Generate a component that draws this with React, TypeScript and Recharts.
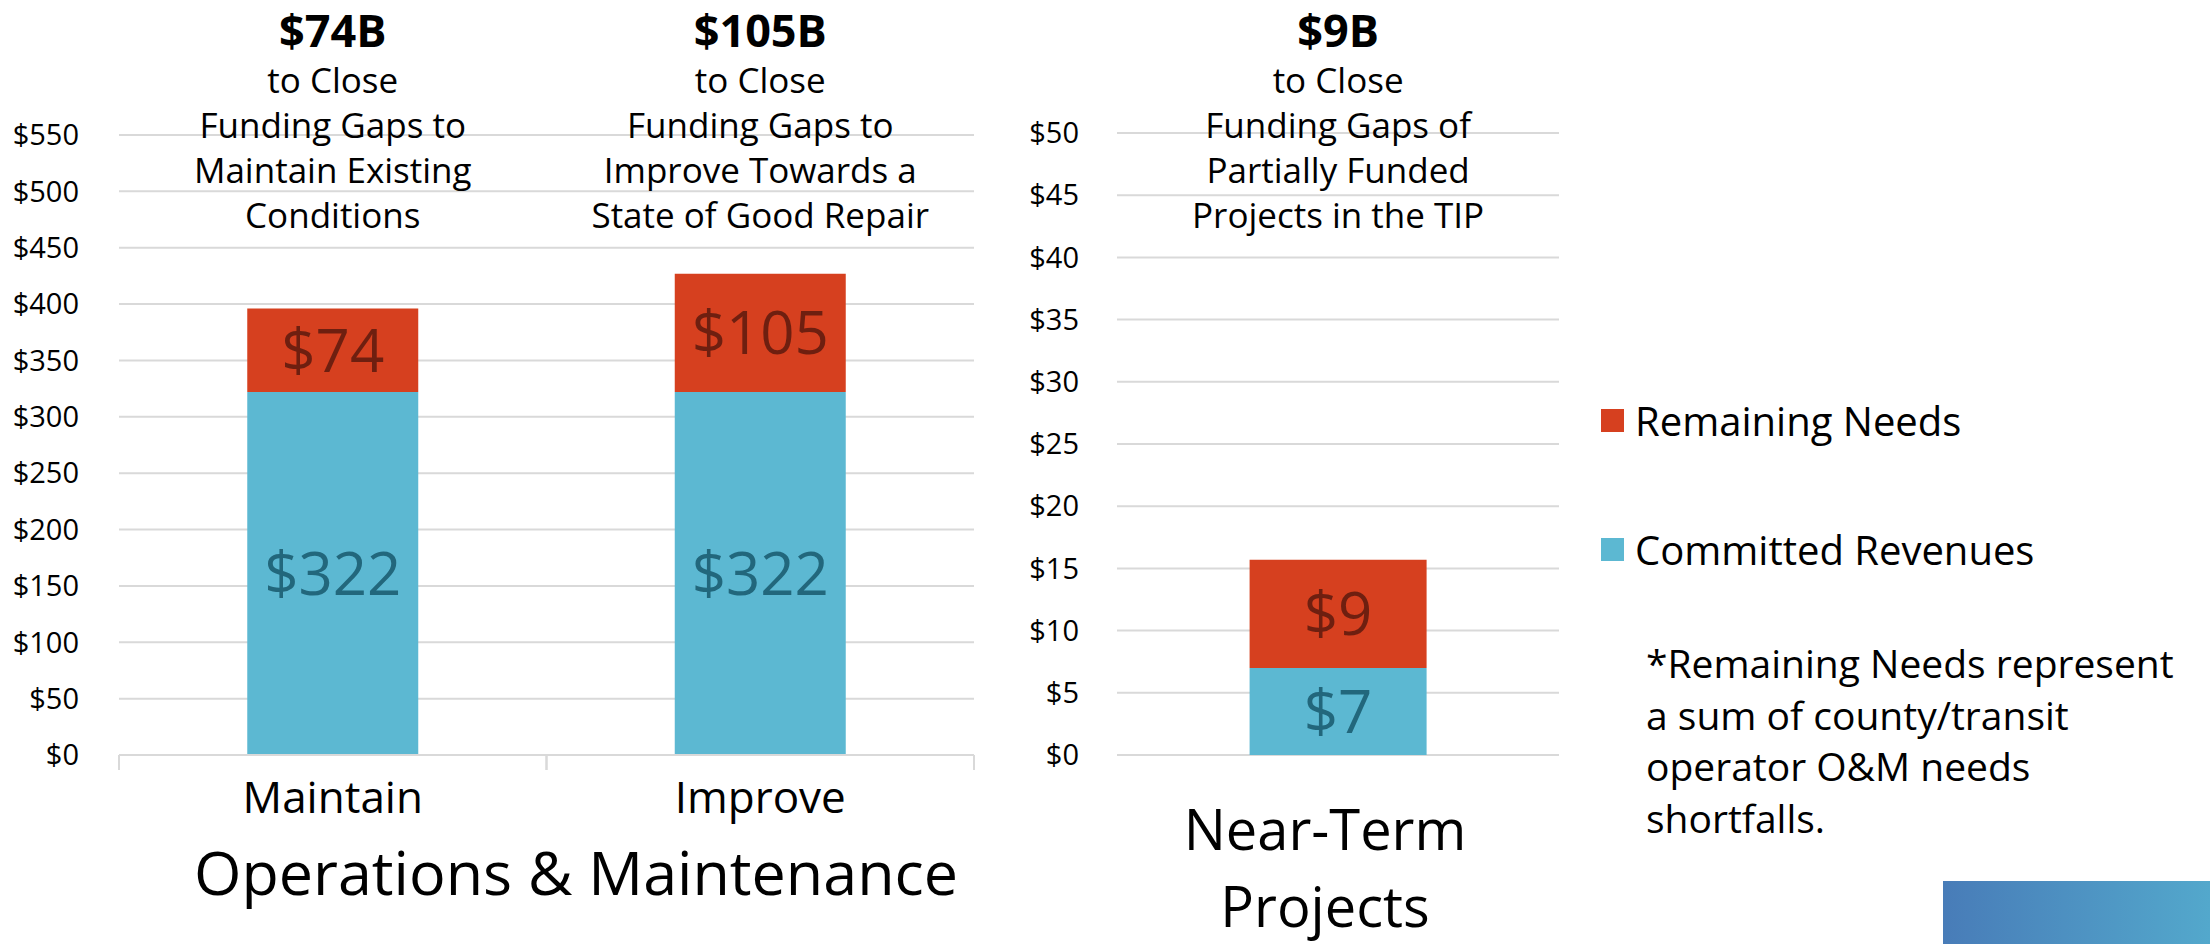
import React from "react";
import {
  BarChart,
  Bar,
  XAxis,
  YAxis,
  CartesianGrid,
  LabelList,
  Legend,
} from "recharts";

// Operations & Maintenance ($B)
const omCategories = ["Maintain", "Improve"];
const omCommitted = [322, 322];
const omRemaining = [74, 105];
const omTitleAmounts = ["$74B", "$105B"];
const omTitleLines = [
  ["to Close", "Funding Gaps to", "Maintain Existing", "Conditions"],
  ["to Close", "Funding Gaps to", "Improve Towards a", "State of Good Repair"],
];
const omTicks = [0, 50, 100, 150, 200, 250, 300, 350, 400, 450, 500, 550];

// Near-term projects ($B)
const ntCategories = ["Near-Term Projects"];
const ntCommitted = [7.0];
const ntRemaining = [8.7];
const ntTitleAmounts = ["$9B"];
const ntTitleLines = [
  ["to Close", "Funding Gaps of", "Partially Funded", "Projects in the TIP"],
];
const ntTicks = [0, 5, 10, 15, 20, 25, 30, 35, 40, 45, 50];

const groupLabel = "Operations & Maintenance";
const footnoteLines = [
  "*Remaining Needs represent",
  "a sum of county/transit",
  "operator O&M needs",
  "shortfalls.",
];
const legendOrder = ["Remaining Needs", "Committed Revenues"];

const FONT = "'Open Sans', sans-serif";
const RED = "#D6401F";
const BLUE = "#5CB8D2";
const RED_LABEL = "#6E1F10";
const BLUE_LABEL = "#22677C";
const GRID = "#D9D9D9";

const omData = omCategories.map((name, i) => ({
  name,
  committed: omCommitted[i],
  remaining: omRemaining[i],
}));
const ntData = ntCategories.map((name, i) => ({
  name,
  committed: ntCommitted[i],
  remaining: ntRemaining[i],
}));

const money = (v: any) => `$${Math.round(Number(v))}`;

const makeTitle =
  (amounts: string[], lines: string[][]) =>
  (props: any) => {
    const vb = props.viewBox || {};
    const x = Number(props.x ?? vb.x);
    const w = Number(props.width ?? vb.width);
    const idx = Number(props.index);
    const cx = x + w / 2;
    return (
      <g fontFamily={FONT} textAnchor="middle" fill="#000">
        <text x={cx} y={47} fontSize={45} fontWeight={700}>
          {amounts[idx]}
        </text>
        {(lines[idx] || []).map((l, i) => (
          <text key={i} x={cx} y={93 + i * 45} fontSize={35}>
            {l}
          </text>
        ))}
      </g>
    );
  };

const OmTick = (props: any) => {
  const { x, y, payload } = props;
  const half = payload?.offset ?? 0;
  return (
    <g>
      <line x1={x - half} x2={x - half} y1={y} y2={y + 15} stroke={GRID} strokeWidth={2} />
      <line x1={x + half} x2={x + half} y1={y} y2={y + 15} stroke={GRID} strokeWidth={2} />
      <text x={x} y={y + 58} textAnchor="middle" fontSize={44} fontFamily={FONT} fill="#000">
        {payload.value}
      </text>
    </g>
  );
};

const NtTick = (props: any) => {
  const { x, y, payload } = props;
  const parts = String(payload.value).split(" ");
  return (
    <g>
      {parts.map((p, i) => (
        <text
          key={i}
          x={x - 13}
          y={y + 95 + i * 77}
          textAnchor="middle"
          fontSize={56}
          fontFamily={FONT}
          fill="#000"
        >
          {p}
        </text>
      ))}
    </g>
  );
};

const LegendBox = (props: any) => {
  const items = [...(props.payload || [])].sort(
    (a: any, b: any) => legendOrder.indexOf(a.value) - legendOrder.indexOf(b.value)
  );
  return (
    <div style={{ fontFamily: FONT }}>
      {items.map((it: any, i: number) => (
        <div
          key={it.value}
          style={{
            display: "flex",
            alignItems: "center",
            height: 41,
            marginBottom: i === 0 ? 87.5 : 0,
          }}
        >
          <span
            style={{
              width: 23,
              height: 23,
              background: it.color,
              display: "inline-block",
              marginRight: 11,
            }}
          />
          <span style={{ fontSize: 40, lineHeight: "41px", color: "#000", whiteSpace: "nowrap" }}>
            {it.value}
          </span>
        </div>
      ))}
    </div>
  );
};

const yTick = { fill: "#000", fontSize: 29, fontFamily: FONT };

const App: React.FC = () => {
  return (
    <div
      style={{
        position: "absolute",
        left: 0,
        top: 0,
        width: 2210,
        height: 944,
        background: "#fff",
        overflow: "hidden",
      }}
    >
      <svg
        width={2210}
        height={944}
        style={{ position: "absolute", left: 0, top: 0 }}
      >
        <defs>
          <linearGradient id="corner" x1="0" x2="1" y1="0" y2="0">
            <stop offset="0%" stopColor="#487CB8" />
            <stop offset="100%" stopColor="#53A8CC" />
          </linearGradient>
        </defs>
        <text x={576} y={895} textAnchor="middle" fontSize={61} fontFamily={FONT} fill="#000">
          {groupLabel}
        </text>
        {footnoteLines.map((l, i) => (
          <text key={i} x={1646} y={678 + i * 51.5} fontSize={39} fontFamily={FONT} fill="#000">
            {l}
          </text>
        ))}
        <rect x={1943} y={881} width={267} height={63} fill="url(#corner)" />
      </svg>

      <div style={{ position: "absolute", left: 0, top: 0 }}>
        <BarChart
          width={1000}
          height={944}
          data={omData}
          margin={{ top: 135, right: 26, bottom: 129, left: 0 }}
          barCategoryGap="30%"
        >
          <CartesianGrid vertical={false} stroke={GRID} strokeWidth={2} />
          <XAxis
            dataKey="name"
            height={60}
            interval={0}
            tickSize={0}
            tickMargin={0}
            tickLine={false}
            axisLine={{ stroke: GRID, strokeWidth: 2 }}
            tick={<OmTick />}
          />
          <YAxis
            width={119}
            domain={[0, 550]}
            ticks={omTicks}
            interval={0}
            axisLine={false}
            tickLine={false}
            tickSize={0}
            tickMargin={40}
            tick={yTick}
            tickFormatter={(v) => `$${v}`}
          />
          <Bar dataKey="committed" name="Committed Revenues" stackId="a" fill={BLUE} isAnimationActive={false}>
            <LabelList
              dataKey="committed"
              position="center"
              formatter={money}
              fill={BLUE_LABEL}
              fontSize={60}
              fontFamily={FONT}
            />
          </Bar>
          <Bar dataKey="remaining" name="Remaining Needs" stackId="a" fill={RED} isAnimationActive={false}>
            <LabelList
              dataKey="remaining"
              position="center"
              formatter={money}
              fill={RED_LABEL}
              fontSize={60}
              fontFamily={FONT}
            />
            <LabelList dataKey="remaining" content={makeTitle(omTitleAmounts, omTitleLines)} />
          </Bar>
        </BarChart>
      </div>

      <div style={{ position: "absolute", left: 1000, top: 0 }}>
        <BarChart
          width={1210}
          height={944}
          data={ntData}
          margin={{ top: 133, right: 651, bottom: 129, left: 0 }}
          barCategoryGap="30%"
        >
          <CartesianGrid vertical={false} stroke={GRID} strokeWidth={2} />
          <XAxis
            dataKey="name"
            height={60}
            interval={0}
            tickSize={0}
            tickMargin={0}
            tickLine={false}
            axisLine={false}
            tick={<NtTick />}
          />
          <YAxis
            width={117}
            domain={[0, 50]}
            ticks={ntTicks}
            interval={0}
            axisLine={false}
            tickLine={false}
            tickSize={0}
            tickMargin={38}
            tick={yTick}
            tickFormatter={(v) => `$${v}`}
          />
          <Legend
            layout="vertical"
            align="center"
            verticalAlign="middle"
            wrapperStyle={{ left: 601, top: 400, width: 600, height: 200 }}
            content={<LegendBox />}
          />
          <Bar dataKey="committed" name="Committed Revenues" stackId="a" fill={BLUE} isAnimationActive={false}>
            <LabelList
              dataKey="committed"
              position="center"
              formatter={money}
              fill={BLUE_LABEL}
              fontSize={60}
              fontFamily={FONT}
            />
          </Bar>
          <Bar dataKey="remaining" name="Remaining Needs" stackId="a" fill={RED} isAnimationActive={false}>
            <LabelList
              dataKey="remaining"
              position="center"
              formatter={money}
              fill={RED_LABEL}
              fontSize={60}
              fontFamily={FONT}
            />
            <LabelList dataKey="remaining" content={makeTitle(ntTitleAmounts, ntTitleLines)} />
          </Bar>
        </BarChart>
      </div>
    </div>
  );
};

export default App;
